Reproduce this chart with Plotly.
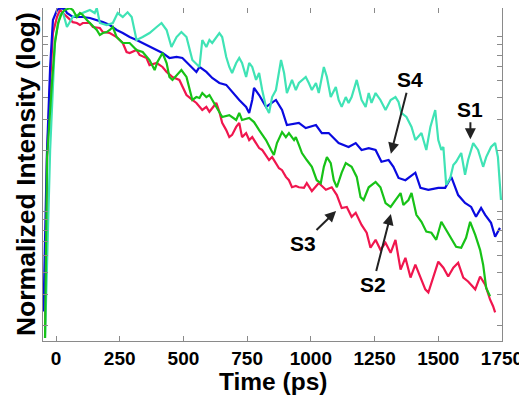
import numpy as np
import plotly.graph_objects as go

# ---------------- data (time in ps, normalized intensity) ----------------
s4_t = [-49, -36, -23, -12, 4, 16, 35, 43, 66, 105, 133, 160, 184, 211, 238, 262, 289, 316, 340, 367,
        395, 418, 445, 473, 496, 523, 551, 563, 590, 613, 641, 668, 691, 719, 746, 758, 770, 777, 797, 824,
        863, 887, 906, 953, 980, 1020, 1043, 1070, 1109, 1148, 1176, 1199, 1227, 1254, 1277, 1305, 1324, 1344,
        1371, 1410, 1430, 1461, 1500, 1527, 1551, 1578, 1605, 1629, 1648, 1668, 1684, 1707, 1723, 1742]
s4_v = [0.0240, 0.183, 0.599, 1.111, 1.267, 1.300, 1.28, 1.218, 1.156, 1.156, 1.141, 1.111, 1.08, 1.040,
        0.974, 0.936, 0.888, 0.854, 0.821, 0.779, 0.749, 0.720, 0.674, 0.683, 0.674, 0.614, 0.561, 0.599,
        0.561, 0.518, 0.485, 0.473, 0.431, 0.388, 0.354, 0.327, 0.388, 0.454, 0.414, 0.354, 0.388, 0.340,
        0.279, 0.287, 0.268, 0.279, 0.251, 0.251, 0.220, 0.209, 0.220, 0.201, 0.206, 0.201, 0.172, 0.176,
        0.161, 0.139, 0.135, 0.149, 0.122, 0.119, 0.122, 0.122, 0.141, 0.111, 0.100, 0.0950, 0.0834, 0.0936,
        0.0856, 0.0770, 0.0641, 0.0721]

s1_t = [-43, -23, -4, 16, 27, 43, 66, 105, 133, 152, 160, 172, 199, 223, 242, 262, 281, 297, 316, 340,
        367, 395, 414, 434, 453, 473, 492, 512, 535, 563, 574, 590, 602, 613, 629, 641, 652, 668, 680, 691,
        707, 719, 730, 746, 758, 770, 785, 797, 809, 824, 836, 848, 863, 883, 895, 906, 926, 941, 953, 965,
        980, 992, 1004, 1020, 1031, 1051, 1063, 1078, 1098, 1109, 1121, 1137, 1148, 1160, 1180, 1199, 1215,
        1227, 1238, 1254, 1273, 1293, 1313, 1332, 1344, 1355, 1375, 1395, 1410, 1434, 1453, 1469, 1488, 1500,
        1512, 1520, 1531, 1547, 1559, 1570, 1590, 1605, 1617, 1637, 1656, 1676, 1688, 1707, 1723, 1734, 1742,
        1746]
s1_v = [0.0170, 0.201, 0.854, 1.187, 1.23, 1.013, 1.156, 1.218, 1.267, 1.218, 1.300, 1.068, 1.040, 1.068,
        1.218, 1.156, 1.230, 1.156, 0.854, 0.888, 0.936, 1.013, 1.068, 0.974, 0.779, 0.888, 0.948, 0.888,
        0.656, 0.599, 0.854, 0.779, 0.854, 0.821, 0.888, 0.936, 0.888, 0.683, 0.599, 0.553, 0.631, 0.674,
        0.631, 0.525, 0.631, 0.599, 0.505, 0.553, 0.442, 0.354, 0.327, 0.403, 0.442, 0.656, 0.553, 0.425,
        0.505, 0.442, 0.485, 0.505, 0.525, 0.485, 0.442, 0.485, 0.425, 0.599, 0.525, 0.403, 0.460, 0.388,
        0.354, 0.403, 0.373, 0.403, 0.505, 0.388, 0.354, 0.425, 0.373, 0.425, 0.388, 0.340, 0.388, 0.403,
        0.378, 0.327, 0.310, 0.272, 0.229, 0.251, 0.201, 0.272, 0.340, 0.229, 0.201, 0.209, 0.127, 0.139,
        0.165, 0.172, 0.193, 0.145, 0.176, 0.220, 0.201, 0.161, 0.183, 0.209, 0.220, 0.183, 0.127, 0.104]

s3_t = [-43, -35, -23, -12, 4, 16, 27, 43, 55, 66, 82, 94, 105, 133, 145, 172, 184, 211, 238, 262, 277,
        289, 316, 328, 355, 367, 395, 418, 434, 457, 484, 512, 535, 551, 574, 590, 602, 613, 629, 641, 652,
        668, 680, 691, 707, 719, 730, 746, 758, 770, 785, 797, 809, 824, 836, 848, 863, 875, 887, 902, 914,
        926, 941, 953, 973, 984, 1004, 1031, 1059, 1082, 1102, 1121, 1141, 1160, 1176, 1199, 1219, 1234,
        1254, 1273, 1293, 1313, 1332, 1352, 1371, 1391, 1410, 1430, 1449, 1461, 1480, 1500, 1520, 1539,
        1559, 1578, 1598, 1617, 1645, 1664, 1684, 1703, 1715, 1723]
s3_v = [0.0201, 0.183, 0.485, 0.936, 1.156, 1.267, 1.218, 1.156, 1.111, 1.08, 1.068, 1.040, 1.068, 1.068,
        1.013, 1.000, 0.948, 0.936, 0.888, 0.821, 0.729, 0.720, 0.749, 0.701, 0.674, 0.614, 0.631, 0.599,
        0.561, 0.525, 0.505, 0.414, 0.388, 0.373, 0.340, 0.354, 0.332, 0.349, 0.373, 0.332, 0.287, 0.261,
        0.238, 0.245, 0.272, 0.287, 0.238, 0.251, 0.229, 0.238, 0.220, 0.206, 0.201, 0.188, 0.176, 0.183,
        0.169, 0.158, 0.154, 0.141, 0.135, 0.123, 0.125, 0.123, 0.122, 0.130, 0.117, 0.130, 0.119, 0.123,
        0.111, 0.0936, 0.0950, 0.0834, 0.0879, 0.0750, 0.0676, 0.0555, 0.0616, 0.0540, 0.0592, 0.0519,
        0.0616, 0.0416, 0.0486, 0.0375, 0.0444, 0.0375, 0.0321, 0.0308, 0.0380, 0.0462, 0.0427, 0.0380,
        0.0427, 0.0455, 0.0375, 0.0356, 0.0321, 0.0380, 0.0342, 0.0281, 0.0257, 0.0237]

s2_t = [-43, -35, -16, -4, 8, 23, 35, 55, 66, 82, 94, 105, 121, 133, 145, 160, 172, 184, 199, 211, 223,
        238, 262, 289, 316, 340, 367, 387, 398, 418, 434, 445, 457, 473, 492, 512, 523, 535, 551, 563, 574,
        590, 602, 613, 629, 641, 652, 680, 707, 719, 730, 758, 777, 797, 824, 844, 855, 867, 887, 902, 914,
        934, 941, 953, 965, 984, 1004, 1023, 1039, 1051, 1063, 1078, 1090, 1102, 1121, 1137, 1160, 1180,
        1195, 1207, 1227, 1254, 1273, 1293, 1313, 1332, 1352, 1363, 1383, 1395, 1414, 1434, 1453, 1473,
        1492, 1512, 1531, 1551, 1570, 1590, 1609, 1625, 1645, 1664, 1676, 1688, 1703]
s2_v = [0.0169, 0.183, 0.485, 0.821, 1.068, 1.218, 1.267, 1.300, 1.267, 1.156, 1.218, 1.187, 1.111, 1.068,
        1.013, 0.974, 0.912, 0.936, 0.948, 0.974, 1.013, 0.888, 0.821, 0.821, 0.749, 0.729, 0.656, 0.575,
        0.639, 0.720, 0.631, 0.525, 0.505, 0.539, 0.575, 0.525, 0.460, 0.388, 0.403, 0.398, 0.425, 0.403,
        0.414, 0.388, 0.354, 0.327, 0.310, 0.318, 0.298, 0.327, 0.298, 0.306, 0.290, 0.261, 0.229, 0.201,
        0.188, 0.220, 0.254, 0.238, 0.251, 0.229, 0.238, 0.215, 0.193, 0.176, 0.161, 0.135, 0.130, 0.161,
        0.183, 0.169, 0.135, 0.123, 0.149, 0.169, 0.161, 0.141, 0.108, 0.104, 0.123, 0.132, 0.123, 0.100,
        0.0950, 0.104, 0.114, 0.0975, 0.104, 0.114, 0.0856, 0.0781, 0.0686, 0.0676, 0.0616, 0.0781, 0.0703,
        0.0633, 0.0562, 0.0555, 0.0633, 0.0781, 0.0658, 0.0540, 0.0444, 0.0327, 0.0293]

x_ticks = [0, 250, 500, 750, 1000, 1250, 1500, 1750]
y_minor_ticks = [0.02, 0.03, 0.04, 0.05, 0.06, 0.07, 0.08, 0.09,
                 0.2, 0.3, 0.4, 0.5, 0.6, 0.7, 0.8, 0.9]

labels = ["S4", "S1", "S3", "S2"]
label_tip_t = [1314, 1626, 1099, 1314]
label_tip_v = [0.191, 0.231, 0.090, 0.0865]

# ---------------- figure ----------------
FONT = "Liberation Sans, Arial, Helvetica, sans-serif"
fig = go.Figure()

series = [
    ("S3", s3_t, s3_v, "#F0164E"),
    ("S4", s4_t, s4_v, "#0A0AE0"),
    ("S1", s1_t, s1_v, "#3FE3B5"),
    ("S2", s2_t, s2_v, "#17C217"),
]
for name, t, v, c in series:
    fig.add_trace(go.Scatter(x=t, y=v, mode="lines", name=name,
                             line=dict(color=c, width=2.2), showlegend=False))

offsets = {"S4": (19, -74), "S1": (0, -30), "S3": (-33, 32), "S2": (-18, 70)}
for lab, tt, vv in zip(labels, label_tip_t, label_tip_v):
    ax, ay = offsets[lab]
    fig.add_annotation(x=tt, y=np.log10(vv), xref="x", yref="y", text=lab,
                       showarrow=True, ax=ax, ay=ay, arrowhead=2, arrowsize=1.1,
                       arrowwidth=2, arrowcolor="#222222", standoff=0,
                       font=dict(family=FONT, size=21, color="black", weight="bold"))

fig.add_annotation(x=0.5, y=-0.1216, xref="paper", yref="paper", text="Time (ps)",
                   showarrow=False, xanchor="center", yanchor="middle", borderpad=0,
                   font=dict(family=FONT, size=24.5, color="black", weight="bold"))
fig.add_annotation(x=-0.038, y=0.5, xref="paper", yref="paper",
                   text="Normalized Intensity (log)", textangle=-90,
                   showarrow=False, xanchor="center", yanchor="middle",
                   font=dict(family=FONT, size=26.5, color="black", weight="bold"))

axis_col = "#8a8a8a"
# the page body adds an 8 px offset on the left and top, so the figure is
# 8 px smaller in each direction and its left/top margins are reduced by 8 px
fig.update_layout(
    width=519, height=388,
    margin=dict(l=35, r=25, t=0, b=55),
    paper_bgcolor="white", plot_bgcolor="white",
    xaxis=dict(range=[-51, 1750], tickvals=x_ticks, ticks="inside", ticklen=5,
               tickcolor=axis_col, showline=True, linecolor=axis_col, linewidth=1,
               mirror="ticks", showgrid=False, zeroline=False,
               tickfont=dict(family=FONT, size=19, color="black", weight="bold")),
    yaxis=dict(type="log", range=[-1.7886, 0.1143], tickvals=y_minor_ticks,
               ticks="inside", ticklen=5, tickcolor=axis_col, showticklabels=False,
               showline=True, linecolor=axis_col, linewidth=1, mirror="ticks",
               showgrid=False, zeroline=False),
)

fig.write_html("out.html")
